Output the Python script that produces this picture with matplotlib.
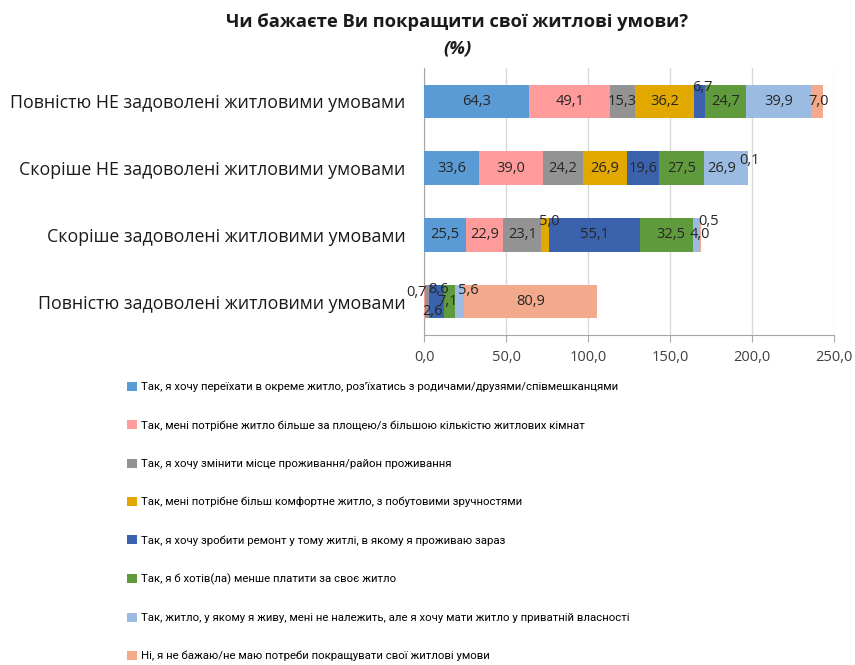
import matplotlib
matplotlib.use("Agg")
import matplotlib.pyplot as plt
import numpy as np

categories = [
    "Повністю НЕ задоволені житловими умовами",
    "Скоріше НЕ задоволені житловими умовами",
    "Скоріше задоволені житловими умовами",
    "Повністю задоволені житловими умовами",
]
series_names = [
    "Так, я хочу переїхати в окреме житло, роз’їхатись з родичами/друзями/співмешканцями",
    "Так, мені потрібне житло більше за площею/з більшою кількістю житлових кімнат",
    "Так, я хочу змінити місце проживання/район проживання",
    "Так, мені потрібне більш комфортне житло, з побутовими зручностями",
    "Так, я хочу зробити ремонт у тому житлі, в якому я проживаю зараз",
    "Так, я б хотів(ла) менше платити за своє житло",
    "Так, житло, у якому я живу, мені не належить, але я хочу мати житло у приватній власності",
    "Ні, я не бажаю/не маю потреби покращувати свої житлові умови",
]
s_move = [64.3, 33.6, 25.5, 0.0]
s_bigger = [49.1, 39.0, 22.9, 0.7]
s_place = [15.3, 24.2, 23.1, 2.6]
s_comfort = [36.2, 26.9, 5.0, 0.0]
s_repair = [6.7, 19.6, 55.1, 8.6]
s_payless = [24.7, 27.5, 32.5, 7.1]
s_own = [39.9, 26.9, 4.0, 5.6]
s_no = [7.0, 0.1, 0.5, 80.9]
series = [s_move, s_bigger, s_place, s_comfort, s_repair, s_payless, s_own, s_no]
colors = ["#5B9BD5", "#FF9B9B", "#939393", "#E2A800", "#3A62AD",
          "#5F9A3D", "#9CBBE2", "#F3A98B"]
xticks = [0, 50, 100, 150, 200, 250]

# label offsets in pixels (series index, row index) -> (dx, dy), dy>0 = up
offsets = {(4, 0): (2, 14), (7, 0): (2, 0), (7, 1): (1, 8), (6, 1): (-4, 0),
           (3, 2): (4, 13), (7, 2): (8, 13), (6, 2): (3, 0), (5, 2): (4, 0),
           (1, 3): (-8, 9), (2, 3): (5, -10), (4, 3): (2, 12), (5, 3): (-2, 0),
           (6, 3): (9, 11)}

plt.rcParams["font.family"] = ["Open Sans", "DejaVu Sans"]

fig = plt.figure(figsize=(8.55, 6.65), dpi=100)
ax = fig.add_axes([424 / 855, 1 - 335 / 665, 410 / 855, 267 / 665])

y = np.arange(len(categories))
left = np.zeros(len(categories))
handles = []
for i, (vals, c) in enumerate(zip(series, colors)):
    vals = np.array(vals)
    b = ax.barh(y, vals, left=left, height=0.5, color=c, zorder=3, label=series_names[i])
    handles.append(b)
    for j, v in enumerate(vals):
        if v <= 0:
            continue
        dx, dy = offsets.get((i, j), (0, 0))
        ax.annotate(f"{v:.1f}".replace(".", ","), (left[j] + v / 2, y[j]),
                    xytext=(dx, dy), textcoords="offset pixels",
                    ha="center", va="center", fontsize=10.5, color="#262626", zorder=5)
    left = left + vals

ax.set_xlim(0, 250)
ax.set_ylim(3.5, -0.5)
ax.set_xticks(xticks)
ax.set_xticklabels([f"{t:.1f}".replace(".", ",") for t in xticks], fontsize=10.5, color="#404040")
ax.set_yticks(y)
ax.set_yticklabels(categories, fontsize=12.8, color="#1a1a1a")
ax.tick_params(axis="y", length=0, pad=13.5)
ax.tick_params(axis="x", length=5, direction="out", color="#A6A6A6", pad=6)
ax.grid(axis="x", color="#D9D9D9", linewidth=1, zorder=0)
for s in ["top", "right"]:
    ax.spines[s].set_visible(False)
ax.spines["left"].set_color("#A6A6A6")
ax.spines["bottom"].set_color("#A6A6A6")

fig.text(457 / 855, 1 - 22 / 665, "Чи бажаєте Ви покращити свої житлові умови?",
         ha="center", va="center", fontsize=13.2, fontweight="bold", color="#1a1a1a")
fig.text(457 / 855, 1 - 48 / 665, "(%)", ha="center", va="center", fontsize=13.2,
         fontweight="bold", fontstyle="italic", color="#1a1a1a")

fig.legend(handles=handles, labels=series_names, loc="upper left",
           bbox_to_anchor=(127 / 855, 1 - 382 / 665), frameon=False,
           prop={"family": ["Roboto", "DejaVu Sans"], "size": 8.2},
           handlelength=0.85, handleheight=0.85, handletextpad=0.35,
           labelspacing=2.44, borderaxespad=0, borderpad=0)

fig.savefig("out.png", dpi=100)
